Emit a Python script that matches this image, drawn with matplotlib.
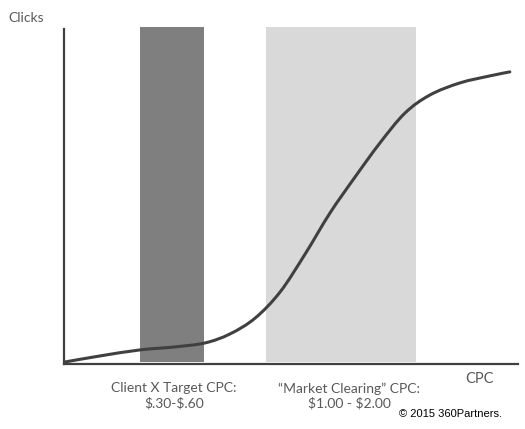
import matplotlib.pyplot as plt
from matplotlib.path import Path
from matplotlib.patches import PathPatch
import numpy as np

# Clicks vs CPC curve (arbitrary units, 0-100 on both axes)
cpc = [0.2, 7.9, 16.7, 24.4, 31.1, 36.6, 42.1, 47.6, 53.1, 58.6, 64.1,
       69.6, 75.1, 80.6, 87.2, 93.8, 98.2]
clicks = [0.6, 2.4, 4.2, 5.1, 6.3, 9.0, 13.7, 21.5, 32.8, 45.1, 55.8,
          66.0, 74.9, 80.3, 83.9, 86.0, 87.2]

# CPC ranges shown as shaded bands
band_ranges = [(16.7, 30.8), (44.5, 77.5)]
band_colors = ['#7f7f7f', '#d9d9d9']
band_labels = ['Client X Target CPC:\n\\$.30-\\$.60',
               '\u201cMarket Clearing\u201d CPC:\n\\$1.00 - \\$2.00']
label_x = [24.2, 62.8]


def smooth_path(xs, ys):
    # Catmull-Rom through the read points, drawn as cubic Bezier segments
    p = np.column_stack([xs, ys])
    verts = [p[0]]
    codes = [Path.MOVETO]
    for i in range(len(p) - 1):
        p0 = p[i - 1] if i > 0 else p[i]
        p1, p2 = p[i], p[i + 1]
        p3 = p[i + 2] if i + 2 < len(p) else p[i + 1]
        verts += [p1 + (p2 - p0) / 6, p2 - (p3 - p1) / 6, p2]
        codes += [Path.CURVE4] * 3
    return Path(verts, codes)


fig = plt.figure(figsize=(5.25, 4.29), dpi=100)
ax = fig.add_axes([64 / 525, 65 / 429, 454 / 525, 335 / 429])

for (x0, x1), c in zip(band_ranges, band_colors):
    ax.axvspan(x0, x1, ymin=0.005, ymax=1.005, color=c, lw=0, zorder=1, clip_on=False)

ax.add_patch(PathPatch(smooth_path(cpc, clicks), fill=False, edgecolor='#404040',
                       lw=2.2, capstyle='round', zorder=3))

ax.set_xlim(0, 100)
ax.set_ylim(0, 100)
for s in ['top', 'right']:
    ax.spines[s].set_visible(False)
for s in ['left', 'bottom']:
    ax.spines[s].set_color('#404040')
    ax.spines[s].set_linewidth(1.6)
ax.set_xticks([])
ax.set_yticks([])

font = ['Lato', 'DejaVu Sans']
fig.text(8 / 525, 1 - 18 / 429, 'Clicks', ha='left', va='center',
         fontsize=10, color='#595959', family=font)
for lx, lab in zip(label_x, band_labels):
    ax.text(lx, -5.5, lab, ha='center', va='top', fontsize=10, color='#595959',
            family=font, linespacing=1.2, transform=ax.transData, clip_on=False)
fig.text(480 / 525, 1 - 379 / 429, 'CPC', ha='center', va='center',
         fontsize=10.5, color='#595959', family=font)
fig.text(502 / 525, 1 - 414 / 429, '\u00a9 2015 360Partners.', ha='right', va='center',
         fontsize=8, color='black', family=['Liberation Sans', 'DejaVu Sans'])

fig.savefig('out.png', dpi=100)
